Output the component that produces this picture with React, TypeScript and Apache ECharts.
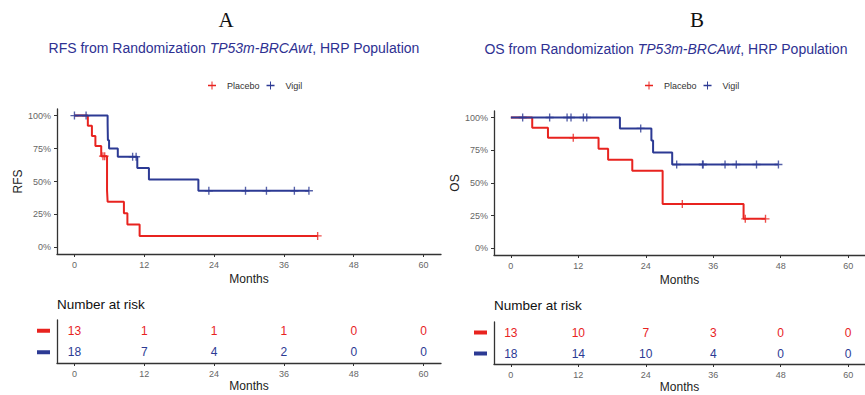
import React, { useEffect, useRef } from "react";
import * as echarts from "echarts";

// ---------- data ----------
const riskMonths = [0, 12, 24, 36, 48, 60];
const yTicks = [0, 25, 50, 75, 100];

// RFS panel (A)
const rfsPlaceboT = [0, 2.3, 3.0, 3.6, 4.6, 5.6, 5.7, 8.5, 9.1, 11.2, 41.8];
const rfsPlaceboS = [100, 92.3, 84.6, 76.9, 69.2, 43.3, 34.6, 26.0, 17.3, 8.7, 8.7];
const rfsPlaceboCensT = [4.9, 5.2, 41.8];
const rfsPlaceboCensS = [69.2, 69.2, 8.7];

const rfsVigilT = [0, 5.7, 5.75, 5.95, 7.45, 10.8, 12.8, 21.3, 40.3];
const rfsVigilS = [100, 93.75, 81.25, 75.0, 68.75, 60.2, 51.6, 43.0, 43.0];
const rfsVigilCensT = [0, 2.0, 10.0, 10.6, 23.1, 29.4, 33.0, 37.8, 40.3];
const rfsVigilCensS = [100, 100, 68.75, 68.75, 43.0, 43.0, 43.0, 43.0, 43.0];

const rfsRiskPlacebo = [13, 1, 1, 1, 0, 0];
const rfsRiskVigil = [18, 7, 4, 2, 0, 0];

// OS panel (B)
const osPlaceboT = [0, 3.8, 6.6, 15.6, 17.3, 21.6, 27.0, 41.4, 45.3];
const osPlaceboS = [100, 92.3, 84.6, 76.2, 67.7, 59.3, 33.9, 22.6, 22.6];
const osPlaceboCensT = [11.1, 30.5, 41.7, 45.3];
const osPlaceboCensS = [84.6, 33.9, 22.6, 22.6];

const osVigilT = [0, 19.4, 25.0, 25.3, 28.7, 47.6];
const osVigilS = [100, 91.7, 82.5, 73.3, 64.1, 64.1];
const osVigilCensT = [2.1, 6.9, 10.0, 10.7, 12.9, 13.5, 23.1, 29.5, 34.1, 34.2, 38.1, 40.1, 43.7, 47.6];
const osVigilCensS = [100, 100, 100, 100, 100, 100, 91.7, 64.1, 64.1, 64.1, 64.1, 64.1, 64.1, 64.1];

const osRiskPlacebo = [13, 10, 7, 3, 0, 0];
const osRiskVigil = [18, 14, 10, 4, 0, 0];

const groups = ["Vigil", "Placebo"];

// ---------- styles ----------
const RED = "#E8231F";
const BLUE = "#2C3A94";
const TITLE = "#2E3192";
const SANS = "Liberation Sans, Arial, sans-serif";
const SERIF = "Liberation Serif, Times New Roman, serif";
const CROSS = "path://M-1,-0.17 L1,-0.17 L1,0.17 L-1,0.17 Z M-0.17,-1 L0.17,-1 L0.17,1 L-0.17,1 Z";
const LEGEND_ICON = "path://M0,0.4 L1,0.4 L1,0.6 L0,0.6 Z M0.44,0 L0.56,0 L0.56,1 L0.44,1 Z";

const zip = (a: number[], b: number[]) => a.map((v, i) => [v, b[i]]);

function xAxisDef(gridIndex: number, nameGap: number) {
  return {
    gridIndex,
    type: "value",
    min: -3,
    max: 63,
    name: "Months",
    nameLocation: "middle",
    nameGap,
    nameTextStyle: { fontFamily: SANS, fontSize: 12, color: "#222" },
    axisLine: { show: true, onZero: false, lineStyle: { color: "#333", width: 1.3 } },
    axisTick: { show: true, length: 3, customValues: riskMonths, lineStyle: { color: "#333" } },
    axisLabel: { customValues: riskMonths, color: "#666", fontSize: 9, margin: 6, fontFamily: SANS },
    splitLine: { show: false },
  };
}

function yPlotAxis(gridIndex: number, name: string) {
  return {
    gridIndex,
    type: "value",
    min: -5,
    max: 105,
    name,
    nameLocation: "middle",
    nameGap: 31,
    nameTextStyle: { fontFamily: SANS, fontSize: 12, color: "#222" },
    axisLine: { show: true, onZero: false, lineStyle: { color: "#333", width: 1.3 } },
    axisTick: { show: true, length: 3, customValues: yTicks, lineStyle: { color: "#333" } },
    axisLabel: {
      customValues: yTicks,
      formatter: "{value}%",
      color: "#666",
      fontSize: 9,
      margin: 6,
      fontFamily: SANS,
    },
    splitLine: { show: false },
  };
}

function yRiskAxis(gridIndex: number) {
  return {
    gridIndex,
    type: "category",
    data: groups,
    axisLine: { show: true, onZero: false, lineStyle: { color: "#333", width: 1.3 } },
    axisTick: { show: false },
    axisLabel: {
      margin: 7,
      formatter: (v: string) => (v === "Placebo" ? "{p|}" : "{v|}"),
      rich: {
        p: { backgroundColor: RED, width: 13, height: 4 },
        v: { backgroundColor: BLUE, width: 13, height: 4 },
      },
    },
    splitLine: { show: false },
  };
}

function kmSeries(name: string, color: string, idx: number, t: number[], s: number[]) {
  return {
    name,
    type: "line",
    step: "end",
    xAxisIndex: idx,
    yAxisIndex: idx,
    data: zip(t, s),
    showSymbol: false,
    symbol: "none",
    itemStyle: { color },
    lineStyle: { color, width: 2 },
    z: 3,
  };
}

function censorSeries(name: string, color: string, idx: number, t: number[], s: number[]) {
  return {
    name: name + " censored",
    type: "scatter",
    xAxisIndex: idx,
    yAxisIndex: idx,
    data: zip(t, s),
    symbol: CROSS,
    symbolSize: 8,
    itemStyle: { color },
    z: 4,
  };
}

function riskSeries(group: string, color: string, idx: number, vals: number[]) {
  return {
    name: group + " at risk",
    type: "scatter",
    xAxisIndex: idx,
    yAxisIndex: idx,
    data: riskMonths.map((m, i) => [m, group, vals[i]]),
    symbolSize: 1,
    itemStyle: { color: color, opacity: 0 },
    labelLayout: { hideOverlap: false },
    label: {
      show: true,
      position: "inside",
      formatter: (p: any) => String(p.value[2]),
      color,
      textBorderWidth: 0,
      textBorderColor: "transparent",
      opacity: 1,
      fontSize: 12,
      fontFamily: SANS,
    },
  };
}

function titleText(x: number, y: number, prefix: string) {
  return {
    type: "text",
    x,
    y,
    style: {
      text: `{n|${prefix} from Randomization }{i|TP53m-BRCAwt}{n|, HRP Population}`,
      align: "center",
      verticalAlign: "middle",
      textAlign: "center",
      textVerticalAlign: "middle",
      fill: TITLE,
      rich: {
        n: { fontFamily: SANS, fontSize: 14, fill: TITLE },
        i: { fontFamily: SANS, fontSize: 14, fontStyle: "italic", fill: TITLE },
      },
    },
  };
}

function plainText(x: number, y: number, text: string, fontSize: number, family: string, align = "center") {
  return {
    type: "text",
    x,
    y,
    style: {
      text,
      fontSize,
      fontFamily: family,
      fill: "#111",
      align,
      verticalAlign: "middle",
      textAlign: align,
      textVerticalAlign: "middle",
    },
  };
}

function legendDef(left: number) {
  return {
    left,
    top: 76,
    itemWidth: 12,
    itemHeight: 8,
    itemGap: 7,
    data: [
      { name: "Placebo", icon: LEGEND_ICON },
      { name: "Vigil", icon: LEGEND_ICON },
    ],
    textStyle: { fontFamily: SANS, fontSize: 9, color: "#333", padding: [0, 0, 0, 4] },
  };
}

export default function App() {
  const ref = useRef<HTMLDivElement>(null);
  useEffect(() => {
    if (!ref.current) return;
    const chart = echarts.init(ref.current, undefined, { renderer: "svg" });
    chart.setOption({
      animation: false,
      backgroundColor: "#ffffff",
      grid: [
        { left: 57, top: 109, width: 384, height: 145 },
        { left: 494, top: 111, width: 382, height: 144 },
        { left: 57, top: 320, width: 384, height: 43 },
        { left: 494, top: 322, width: 382, height: 42 },
      ],
      xAxis: [xAxisDef(0, 19), xAxisDef(1, 19), xAxisDef(2, 17), xAxisDef(3, 17)],
      yAxis: [yPlotAxis(0, "RFS"), yPlotAxis(1, "OS"), yRiskAxis(2), yRiskAxis(3)],
      legend: [legendDef(203), legendDef(640)],
      graphic: [
        plainText(226, 20, "A", 21, SERIF),
        plainText(697, 20, "B", 21, SERIF),
        titleText(234, 48, "RFS"),
        titleText(666, 49, "OS"),
        plainText(57, 304, "Number at risk", 13.5, SANS, "left"),
        plainText(494, 305, "Number at risk", 13.5, SANS, "left"),
      ],
      series: [
        kmSeries("Placebo", RED, 0, rfsPlaceboT, rfsPlaceboS),
        kmSeries("Vigil", BLUE, 0, rfsVigilT, rfsVigilS),
        censorSeries("Placebo", RED, 0, rfsPlaceboCensT, rfsPlaceboCensS),
        censorSeries("Vigil", BLUE, 0, rfsVigilCensT, rfsVigilCensS),
        kmSeries("Placebo", RED, 1, osPlaceboT, osPlaceboS),
        kmSeries("Vigil", BLUE, 1, osVigilT, osVigilS),
        censorSeries("Placebo", RED, 1, osPlaceboCensT, osPlaceboCensS),
        censorSeries("Vigil", BLUE, 1, osVigilCensT, osVigilCensS),
        riskSeries("Placebo", RED, 2, rfsRiskPlacebo),
        riskSeries("Vigil", BLUE, 2, rfsRiskVigil),
        riskSeries("Placebo", RED, 3, osRiskPlacebo),
        riskSeries("Vigil", BLUE, 3, osRiskVigil),
      ],
    });
    return () => chart.dispose();
  }, []);
  return (
    <div
      ref={ref}
      style={{ position: "fixed", left: 0, top: 0, width: 865, height: 395, background: "#fff" }}
    />
  );
}
